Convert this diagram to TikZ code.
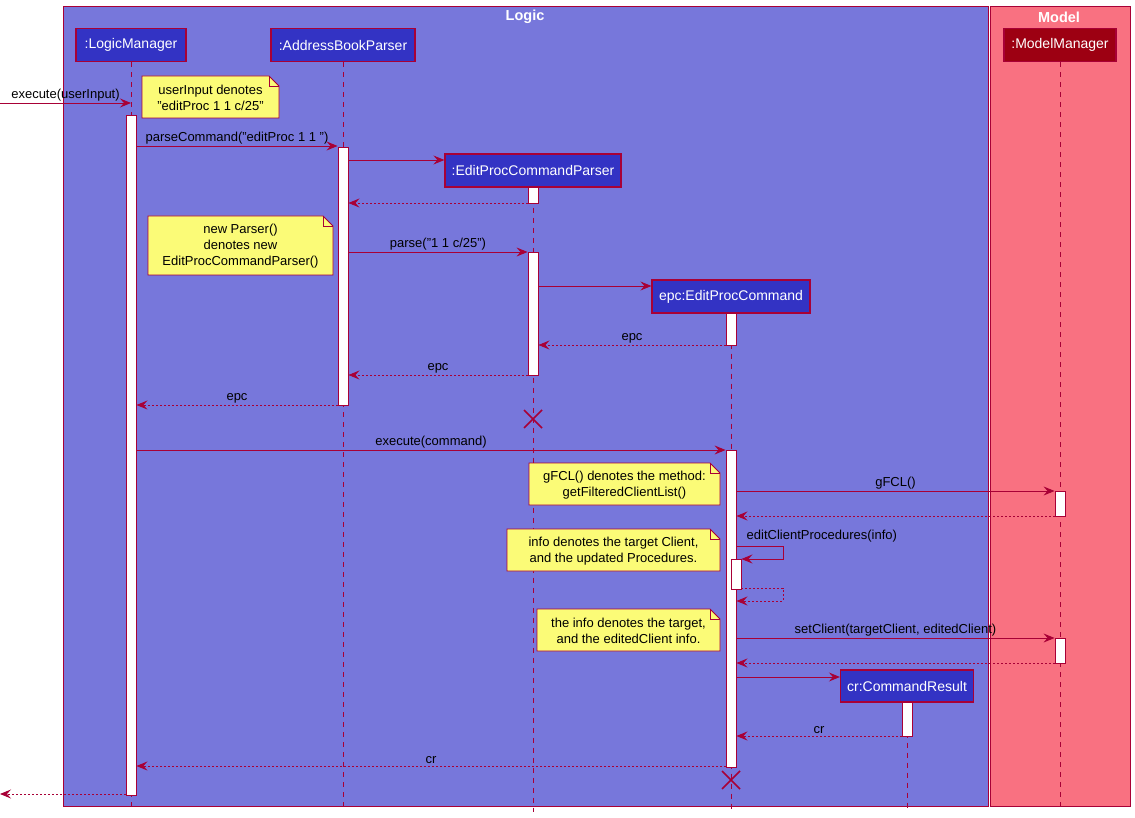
\documentclass[tikz,border=0pt]{standalone}
\usepackage{fontspec}
\setmainfont{Liberation Sans}
\usetikzlibrary{arrows.meta}
\definecolor{crim}{HTML}{A80036}
\definecolor{logicbg}{HTML}{7777DB}
\definecolor{logicpart}{HTML}{3333C4}
\definecolor{modelbg}{HTML}{F97181}
\definecolor{modelpart}{HTML}{9D0012}
\definecolor{notey}{HTML}{FBFB77}
\pgfdeclarelayer{bg}
\pgfsetlayers{bg,main}
\tikzset{
  frame/.style={draw=crim, line width=0.8pt},
  frametitle/.style={text=white, font=\fontsize{14.5}{16}\selectfont\bfseries},
  part/.style={draw=crim, line width=1.2pt, fill=logicpart, text=white,
    font=\fontsize{14}{16}\selectfont, minimum height=33pt, inner sep=0pt},
  lifeline/.style={draw=crim, line width=0.8pt, dash pattern=on 5pt off 5pt},
  act/.style={draw=crim, fill=white, line width=0.9pt, minimum width=10pt, inner sep=0pt},
  msg/.style={draw=crim, line width=0.9pt, -{Stealth[length=11pt,width=9pt,inset=4pt]}},
  ret/.style={msg, dash pattern=on 2pt off 2pt},
  lbl/.style={font=\fontsize{13}{15}\selectfont, text=black, inner sep=1.5pt},
  notepaper/.style={fill=notey, draw=crim, line width=0.8pt},
  notefold/.style={draw=crim, line width=0.8pt},
  notetext/.style={font=\fontsize{13}{16}\selectfont, align=center, inner sep=0pt},
  killmark/.style={draw=crim, line width=1.5pt}
}
% sticky note with a folded top-right corner: name, x1, y1, x2, y2, text
\newcommand\stickynote[6]{%
  \path[notepaper] (#2,#3) -- (#4-10,#3) -- (#4,#3+10) -- (#4,#5) -- (#2,#5) -- cycle;
  \draw[notefold] (#4-10,#3) -- (#4-10,#3+10) -- (#4,#3+10);
  \node[notetext] (#1) at ({(#2+#4)/2},{(#3+#5)/2+1}) {#6};}
% destruction cross
\newcommand\killat[1]{%
  \draw[killmark] ([shift={(-9pt,9pt)}]#1) -- ([shift={(9pt,-9pt)}]#1)
                  ([shift={(-9pt,-9pt)}]#1) -- ([shift={(9pt,9pt)}]#1);}
\begin{document}
\begin{tikzpicture}[x=1pt,y=-1pt]
\useasboundingbox (0,0) rectangle (1135,818);

% ---------- participants ----------
\node[part, minimum width=110pt] (lm) at (131,45) {:LogicManager};
\node[part, minimum width=144pt] (abp) at (343,45) {:AddressBookParser};
\node[part, minimum width=176pt] (epcp) at (533,170.5) {:EditProcCommandParser};
\node[part, minimum width=158pt] (epc) at (731,296.5) {epc:EditProcCommand};
\node[part, minimum width=133pt, minimum height=32pt] (cr) at (907,686) {cr:CommandResult};
\node[part, minimum width=112pt, fill=modelpart] (mm) at (1060,45) {:ModelManager};

% ---------- frames and lifelines ----------
\begin{pgfonlayer}{bg}
  \draw[frame, fill=logicbg] (63,6) rectangle (988,806);
  \draw[frame, fill=modelbg] (990,6) rectangle (1130,806);
  \node[frametitle] (logicttl) at (525,17) {Logic};
  \node[frametitle] (modelttl) at (1059,17) {Model};
  \foreach \p in {lm,abp,epcp,epc,cr,mm}
    \draw[lifeline] (\p.south) -- (\p.south |- 0,812);
\end{pgfonlayer}

% ---------- notes ----------
\stickynote{n1}{142}{76}{279}{118}{userInput denotes\\"editProc 1 1 c/25"}
\stickynote{n2}{148}{216}{333}{275}{new Parser()\\denotes new\\EditProcCommandParser()}
\stickynote{n3}{529}{463}{720}{505}{gFCL() denotes the method:\\getFilteredClientList()}
\stickynote{n4}{507}{529}{720}{571}{info denotes the target Client,\\and the updated Procedures.}
\stickynote{n5}{537}{609}{720}{651}{the info denotes the target,\\and the editedClient info.}

% ---------- activation bars ----------
\node[act, minimum height=680pt] (lmA) at (131,455) {};
\node[act, minimum height=258pt] (abpA) at (343,276) {};
\node[act, minimum height=16pt] (epcpA1) at (533,195) {};
\node[act, minimum height=123pt] (epcpA2) at (533,313.5) {};
\node[act, minimum height=32pt] (epcA1) at (731,329) {};
\node[act, minimum height=317pt] (epcA2) at (731,608.5) {};
\node[act, minimum height=30pt] (epcA3) at (736,574) {};
\node[act, minimum height=25pt] (mmA1) at (1060,503.5) {};
\node[act, minimum height=25pt] (mmA2) at (1060,650.5) {};
\node[act, minimum height=34pt] (crA) at (907,719) {};

% ---------- messages ----------
\coordinate (entry) at (0,103);
\coordinate (exit) at (0,794);
\draw[msg] (entry) -- node[lbl, above] {execute(userInput)} (lm |- entry);
\draw[msg] (lmA.east |- 0,146) -- node[lbl, above] {parseCommand("editProc 1 1 ")} (abpA.west |- 0,146);
\draw[msg] (abpA.east |- 0,160) -- (epcp.west |- 0,160);
\draw[ret] (epcpA1.west |- 0,203) -- (abpA.east |- 0,203);
\draw[msg] (abpA.east |- 0,252) -- node[lbl, above] {parse("1 1 c/25")} (epcpA2.west |- 0,252);
\draw[msg] (epcpA2.east |- 0,286) -- (epc.west |- 0,286);
\draw[ret] (epcA1.west |- 0,345) -- node[lbl, above] {epc} (epcpA2.east |- 0,345);
\draw[ret] (epcpA2.west |- 0,375) -- node[lbl, above] {epc} (abpA.east |- 0,375);
\draw[ret] (abpA.west |- 0,405) -- node[lbl, above] {epc} (lmA.east |- 0,405);
\killat{epcp |- 0,419}
\draw[msg] (lmA.east |- 0,450) -- node[lbl, above] {execute(command)} (epcA2.west |- 0,450);
\draw[msg] (epcA2.east |- 0,491) -- node[lbl, above] {gFCL()} (mmA1.west |- 0,491);
\draw[ret] (mmA1.west |- 0,516) -- (epcA2.east |- 0,516);
\draw[msg] (epcA2.east |- 0,546) -- (783,546) -- (783,559) -- (epcA3.east |- 0,559);
\node[lbl, anchor=south west] (ecplbl) at (745,544) {editClientProcedures(info)};
\draw[ret] (epcA3.east |- 0,588) -- (783,588) -- (783,601) -- (epcA2.east |- 0,601);
\draw[msg] (epcA2.east |- 0,638) -- node[lbl, above] {setClient(targetClient, editedClient)} (mmA2.west |- 0,638);
\draw[ret] (mmA2.west |- 0,663) -- (epcA2.east |- 0,663);
\draw[msg] (epcA2.east |- 0,677) -- (cr.west |- 0,677);
\draw[ret] (crA.west |- 0,736) -- node[lbl, above] {cr} (epcA2.east |- 0,736);
\draw[ret] (epcA2.west |- 0,766) -- node[lbl, above] {cr} (lmA.east |- 0,766);
\killat{epc |- 0,780}
\draw[ret] (lmA.west |- exit) -- (exit);
\end{tikzpicture}
\end{document}
